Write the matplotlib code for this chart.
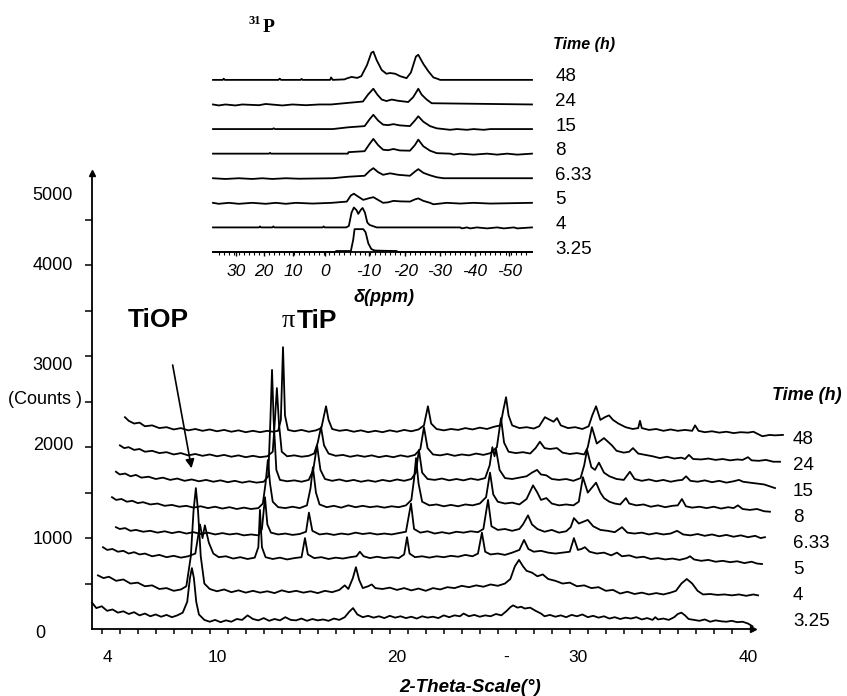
import numpy as np
import matplotlib
matplotlib.use("Agg")
import matplotlib.pyplot as plt
from matplotlib.ticker import FixedLocator, NullFormatter

plt.rcParams['font.family'] = ['Liberation Sans', 'DejaVu Sans']

W, H = 847, 696

# --- XRD patterns: (2-theta, counts) ---
xrd_3_25 = [(3.06, 290), (3.3, 230), (3.6, 250), (3.9, 200), (4.2, 215), (4.5, 180), (4.8, 195),
            (5.1, 165), (5.4, 185), (5.7, 150), (6.0, 170), (6.3, 140), (6.6, 160), (6.9, 135),
            (7.2, 155), (7.5, 130), (7.8, 150), (8.1, 180), (8.35, 300), (8.5, 560), (8.61, 670),
            (8.72, 560), (8.85, 300), (9.0, 160), (9.3, 100), (9.6, 80), (9.9, 100), (10.2, 75),
            (10.5, 95), (10.8, 80), (11.1, 110), (11.4, 100), (11.7, 150), (12.0, 110), (12.3, 95),
            (12.6, 120), (12.9, 90), (13.2, 110), (13.5, 95), (13.8, 130), (14.1, 100), (14.4, 95),
            (14.7, 115), (15.0, 90), (15.3, 110), (15.6, 95), (15.9, 105), (16.2, 90), (16.5, 115),
            (16.8, 100), (17.1, 130), (17.35, 190), (17.56, 230), (17.8, 160), (18.1, 130),
            (18.4, 145), (18.7, 125), (19.0, 140), (19.3, 120), (19.6, 145), (19.9, 125), (20.2, 140),
            (20.5, 120), (20.8, 135), (21.1, 115), (21.4, 140), (21.7, 125), (22.0, 135), (22.3, 120),
            (22.6, 150), (22.9, 130), (23.2, 150), (23.5, 140), (23.7, 170), (24.0, 140), (24.3, 155),
            (24.6, 135), (24.9, 150), (25.2, 140), (25.5, 165), (25.8, 150), (26.1, 200), (26.3, 240),
            (26.45, 260), (26.7, 235), (26.9, 245), (27.1, 225), (27.4, 235), (27.7, 200), (28.0, 170),
            (28.2, 140), (28.5, 155), (28.8, 135), (29.1, 150), (29.4, 130), (29.7, 155), (30.0, 140),
            (30.3, 160), (30.6, 130), (30.9, 145), (31.2, 125), (31.5, 140), (31.8, 115), (32.1, 130),
            (32.4, 110), (32.7, 125), (33.0, 115), (33.3, 130), (33.6, 105), (33.9, 120), (34.2, 100),
            (34.35, 130), (34.5, 105), (34.8, 115), (35.1, 100), (35.4, 130), (35.6, 165), (35.8, 180),
            (36.0, 150), (36.2, 110), (36.5, 100), (36.8, 90), (37.1, 105), (37.4, 80), (37.7, 95),
            (38.0, 85), (38.3, 80), (38.6, 90), (38.9, 75), (39.2, 80), (39.5, 60), (39.75, 30)]

xrd_4 = [(3.39, 590), (3.7, 560), (4.0, 575), (4.4, 530), (4.8, 545), (5.2, 500), (5.6, 510),
         (6.0, 470), (6.4, 480), (6.8, 440), (7.2, 450), (7.6, 420), (8.0, 435), (8.3, 470),
         (8.55, 800), (8.7, 1300), (8.83, 1550), (8.95, 1300), (9.1, 800), (9.3, 500), (9.6, 440),
         (10.0, 415), (10.4, 435), (10.8, 405), (11.2, 425), (11.6, 400), (12.0, 420), (12.4, 400),
         (12.8, 415), (13.2, 395), (13.6, 425), (14.0, 405), (14.4, 420), (14.8, 400), (15.2, 415),
         (15.6, 395), (16.0, 420), (16.4, 405), (16.8, 430), (17.1, 480), (17.3, 440), (17.55, 560),
         (17.72, 680), (17.9, 540), (18.1, 450), (18.4, 470), (18.6, 490), (18.8, 450), (19.2, 440),
         (19.6, 455), (20.0, 430), (20.4, 450), (20.8, 425), (21.2, 445), (21.6, 420), (22.0, 450),
         (22.4, 435), (22.8, 460), (23.2, 450), (23.6, 475), (24.0, 460), (24.4, 480), (24.8, 465),
         (25.2, 490), (25.6, 475), (26.0, 500), (26.3, 550), (26.55, 690), (26.78, 760), (27.0, 690),
         (27.2, 640), (27.5, 620), (27.8, 580), (28.1, 600), (28.4, 550), (28.8, 530), (29.2, 500),
         (29.6, 510), (30.0, 470), (30.4, 480), (30.8, 450), (31.2, 460), (31.6, 420), (32.0, 430),
         (32.4, 390), (32.8, 410), (33.2, 385), (33.6, 400), (34.0, 380), (34.4, 395), (34.8, 380),
         (35.2, 400), (35.5, 420), (35.8, 500), (36.1, 550), (36.4, 500), (36.7, 420), (37.0, 380),
         (37.4, 385), (37.8, 375), (38.2, 380), (38.6, 370), (39.0, 380), (39.4, 365), (39.8, 380),
         (40.06, 370)]

xrd_5 = [(3.67, 900), (3.9, 870), (4.2, 880), (4.5, 850), (4.8, 860), (5.1, 830), (5.4, 845),
         (5.7, 820), (6.0, 830), (6.4, 800), (6.8, 815), (7.2, 790), (7.6, 805), (8.0, 785),
         (8.4, 800), (8.8, 830), (9.06, 1150), (9.2, 1000), (9.33, 1140), (9.55, 950), (9.8, 830),
         (10.1, 790), (10.5, 800), (10.9, 775), (11.3, 790), (11.7, 770), (12.1, 785), (12.3, 900),
         (12.39, 1310), (12.5, 900), (12.7, 790), (13.1, 770), (13.5, 785), (13.9, 765), (14.3, 780),
         (14.7, 790), (14.89, 1000), (15.05, 820), (15.4, 780), (15.8, 790), (16.2, 770), (16.6, 785),
         (17.0, 775), (17.4, 790), (17.75, 800), (17.94, 850), (18.15, 800), (18.5, 780), (18.9, 795),
         (19.3, 780), (19.7, 790), (20.1, 780), (20.4, 820), (20.56, 1010), (20.7, 830), (21.0, 790),
         (21.4, 800), (21.8, 785), (22.2, 800), (22.6, 790), (23.0, 805), (23.4, 795), (23.8, 815),
         (24.2, 800), (24.5, 830), (24.72, 1060), (24.9, 850), (25.2, 820), (25.6, 830), (26.0, 815),
         (26.4, 840), (26.8, 870), (27.06, 980), (27.3, 880), (27.6, 850), (28.0, 860), (28.4, 840),
         (28.8, 830), (29.2, 840), (29.6, 850), (29.83, 1000), (30.05, 870), (30.25, 880),
         (30.44, 900), (30.7, 850), (31.1, 830), (31.5, 840), (31.9, 810), (32.22, 840), (32.5, 800),
         (32.9, 810), (33.3, 785), (33.7, 795), (34.1, 770), (34.5, 780), (34.9, 765), (35.3, 775),
         (35.7, 760), (36.1, 780), (36.28, 800), (36.5, 765), (36.9, 750), (37.3, 760), (37.7, 740),
         (38.1, 750), (38.5, 735), (38.9, 745), (39.3, 725), (39.7, 740), (40.0, 720), (40.28, 715)]

xrd_6_33 = [(4.39, 1120), (4.6, 1100), (4.9, 1110), (5.2, 1080), (5.5, 1090), (5.9, 1070), (6.3, 1080),
            (6.7, 1060), (7.1, 1075), (7.5, 1055), (7.9, 1070), (8.3, 1050), (8.7, 1065), (9.1, 1045),
            (9.5, 1060), (9.9, 1040), (10.3, 1055), (10.7, 1040), (11.1, 1050), (11.5, 1030),
            (11.9, 1040), (12.3, 1030), (12.5, 1100), (12.67, 1450), (12.8, 1150), (13.0, 1060),
            (13.4, 1040), (13.8, 1050), (14.2, 1035), (14.6, 1045), (14.95, 1070), (15.11, 1280),
            (15.3, 1080), (15.7, 1040), (16.1, 1050), (16.5, 1035), (16.9, 1050), (17.3, 1040),
            (17.7, 1060), (18.1, 1045), (18.5, 1055), (18.9, 1040), (19.3, 1050), (19.7, 1040),
            (20.1, 1055), (20.5, 1070), (20.78, 1380), (20.95, 1100), (21.3, 1060), (21.7, 1075),
            (22.1, 1050), (22.5, 1065), (22.9, 1050), (23.3, 1070), (23.7, 1060), (24.1, 1075),
            (24.5, 1065), (24.8, 1100), (25.06, 1420), (25.25, 1130), (25.6, 1090), (26.0, 1100),
            (26.4, 1080), (26.8, 1100), (27.0, 1150), (27.28, 1250), (27.5, 1150), (27.8, 1100),
            (28.2, 1070), (28.6, 1090), (29.0, 1060), (29.4, 1075), (29.65, 1120), (29.83, 1220),
            (30.1, 1160), (30.6, 1200), (30.9, 1130), (31.3, 1090), (31.7, 1080), (32.1, 1065),
            (32.5, 1120), (32.8, 1060), (33.2, 1050), (33.6, 1060), (34.0, 1040), (34.4, 1055),
            (34.8, 1040), (35.2, 1050), (35.56, 1080), (35.9, 1040), (36.3, 1030), (36.7, 1045),
            (37.1, 1025), (37.5, 1040), (37.9, 1020), (38.3, 1035), (38.7, 1015), (39.1, 1030),
            (39.5, 1010), (39.9, 1025), (40.2, 1000), (40.44, 1010)]

xrd_8 = [(4.17, 1450), (4.4, 1420), (4.7, 1430), (5.0, 1400), (5.3, 1410), (5.6, 1385), (5.9, 1395),
         (6.3, 1370), (6.7, 1380), (7.1, 1355), (7.5, 1365), (7.9, 1345), (8.3, 1355), (8.7, 1335),
         (9.1, 1350), (9.5, 1330), (9.9, 1345), (10.3, 1325), (10.7, 1340), (11.1, 1320), (11.5, 1335),
         (11.9, 1320), (12.3, 1330), (12.55, 1380), (12.7, 1600), (12.83, 1860), (12.95, 1600),
         (13.1, 1400), (13.4, 1340), (13.8, 1330), (14.2, 1345), (14.6, 1330), (15.0, 1360),
         (15.2, 1550), (15.33, 1780), (15.5, 1500), (15.7, 1370), (16.1, 1340), (16.5, 1355),
         (16.9, 1335), (17.3, 1360), (17.7, 1340), (18.1, 1355), (18.5, 1340), (18.9, 1350),
         (19.3, 1335), (19.7, 1350), (20.1, 1340), (20.5, 1360), (20.8, 1420), (20.95, 1650),
         (21.06, 1880), (21.2, 1600), (21.4, 1400), (21.8, 1360), (22.2, 1370), (22.6, 1350),
         (23.0, 1365), (23.4, 1350), (23.8, 1370), (24.2, 1360), (24.6, 1380), (24.95, 1450),
         (25.17, 1720), (25.35, 1480), (25.6, 1400), (26.0, 1380), (26.4, 1390), (26.8, 1370),
         (27.2, 1430), (27.56, 1580), (27.8, 1500), (28.0, 1420), (28.3, 1440), (28.6, 1380),
         (29.0, 1360), (29.4, 1370), (29.8, 1360), (30.1, 1400), (30.33, 1670), (30.6, 1500),
         (31.06, 1610), (31.3, 1500), (31.5, 1440), (31.8, 1400), (32.1, 1380), (32.4, 1370),
         (32.72, 1440), (32.9, 1380), (33.3, 1360), (33.7, 1370), (34.1, 1345), (34.5, 1360),
         (34.9, 1340), (35.3, 1355), (35.6, 1360), (35.83, 1430), (36.05, 1350), (36.4, 1335),
         (36.8, 1345), (37.2, 1330), (37.6, 1345), (38.0, 1325), (38.4, 1340), (38.7, 1330),
         (38.94, 1360), (39.2, 1320), (39.6, 1310), (40.0, 1320), (40.4, 1295), (40.72, 1290)]

xrd_15 = [(4.39, 1730), (4.6, 1700), (4.9, 1710), (5.2, 1680), (5.5, 1695), (5.8, 1665), (6.2, 1675),
          (6.6, 1650), (7.0, 1665), (7.4, 1640), (7.8, 1655), (8.2, 1630), (8.6, 1645), (9.0, 1625),
          (9.4, 1640), (9.8, 1620), (10.2, 1635), (10.6, 1615), (11.0, 1630), (11.4, 1610),
          (11.8, 1625), (12.2, 1610), (12.6, 1620), (12.85, 1680), (12.97, 2300), (13.06, 2850),
          (13.15, 2300), (13.3, 1750), (13.5, 1640), (13.9, 1625), (14.3, 1635), (14.7, 1620),
          (15.1, 1640), (15.35, 1750), (15.56, 2020), (15.75, 1750), (16.0, 1650), (16.4, 1630),
          (16.8, 1645), (17.2, 1625), (17.6, 1640), (18.0, 1620), (18.4, 1635), (18.8, 1620),
          (19.2, 1640), (19.6, 1625), (20.0, 1645), (20.4, 1630), (20.8, 1650), (21.05, 1720),
          (21.22, 1970), (21.4, 1720), (21.7, 1650), (22.1, 1640), (22.5, 1655), (22.9, 1635),
          (23.3, 1650), (23.7, 1635), (24.1, 1655), (24.5, 1640), (24.9, 1660), (25.15, 1800),
          (25.3, 2000), (25.42, 1900), (25.5, 1980), (25.7, 1750), (26.0, 1660), (26.4, 1650),
          (26.8, 1665), (27.2, 1680), (27.5, 1720), (27.78, 1750), (28.0, 1700), (28.3, 1690),
          (28.6, 1650), (29.0, 1640), (29.4, 1650), (29.8, 1630), (30.2, 1660), (30.4, 1800),
          (30.56, 1970), (30.8, 1780), (31.0, 1750), (31.22, 1830), (31.5, 1720), (31.8, 1680),
          (32.2, 1650), (32.6, 1640), (32.94, 1730), (33.2, 1650), (33.6, 1630), (34.0, 1645),
          (34.4, 1625), (34.8, 1640), (35.2, 1620), (35.6, 1635), (35.85, 1640), (36.06, 1680),
          (36.3, 1630), (36.7, 1620), (37.1, 1635), (37.5, 1615), (37.9, 1630), (38.3, 1610),
          (38.7, 1625), (39.0, 1640), (39.22, 1620), (39.6, 1610), (40.0, 1600), (40.4, 1590),
          (40.7, 1570), (41.0, 1550)]

xrd_24 = [(4.61, 2020), (4.85, 1990), (5.1, 2000), (5.4, 1970), (5.7, 1980), (6.0, 1950), (6.4, 1960),
          (6.8, 1935), (7.2, 1945), (7.6, 1920), (8.0, 1935), (8.4, 1910), (8.8, 1925), (9.2, 1905),
          (9.6, 1920), (10.0, 1900), (10.4, 1915), (10.8, 1895), (11.2, 1910), (11.6, 1890),
          (12.0, 1905), (12.4, 1890), (12.8, 1900), (13.1, 1950), (13.22, 2300), (13.33, 2650),
          (13.45, 2250), (13.6, 1950), (13.9, 1900), (14.3, 1910), (14.7, 1895), (15.1, 1905),
          (15.4, 1930), (15.6, 2050), (15.78, 2220), (15.95, 2020), (16.2, 1930), (16.6, 1905),
          (17.0, 1915), (17.4, 1895), (17.8, 1910), (18.2, 1895), (18.6, 1910), (19.0, 1890),
          (19.4, 1905), (19.8, 1890), (20.2, 1910), (20.6, 1895), (21.0, 1915), (21.3, 1980),
          (21.5, 2220), (21.7, 1990), (22.0, 1920), (22.4, 1910), (22.8, 1925), (23.2, 1905),
          (23.6, 1920), (24.0, 1910), (24.4, 1930), (24.8, 1915), (25.2, 1935), (25.55, 2000),
          (25.78, 2320), (25.95, 2050), (26.2, 1950), (26.6, 1935), (27.0, 1945), (27.4, 1930),
          (27.7, 1990), (27.94, 2060), (28.2, 1990), (28.5, 1980), (28.89, 1990), (29.2, 1940),
          (29.6, 1925), (30.0, 1935), (30.4, 1920), (30.6, 2000), (30.83, 2220), (31.1, 2040),
          (31.5, 2100), (31.94, 2020), (32.2, 1960), (32.6, 1940), (32.9, 1950), (33.11, 1990),
          (33.4, 1930), (33.8, 1915), (34.2, 1900), (34.6, 1880), (35.0, 1895), (35.4, 1875),
          (35.8, 1885), (36.0, 1870), (36.22, 1915), (36.45, 1870), (36.9, 1865), (37.3, 1875),
          (37.7, 1860), (38.1, 1870), (38.5, 1855), (38.9, 1865), (39.2, 1860), (39.5, 1890),
          (39.7, 1855), (40.1, 1850), (40.5, 1860), (40.9, 1840), (41.28, 1840)]

xrd_48 = [(4.89, 2330), (5.1, 2290), (5.4, 2260), (5.7, 2270), (6.0, 2230), (6.4, 2240), (6.8, 2210),
          (7.2, 2220), (7.6, 2195), (8.0, 2210), (8.4, 2185), (8.8, 2200), (9.2, 2180), (9.6, 2195),
          (10.0, 2175), (10.4, 2190), (10.8, 2170), (11.2, 2185), (11.6, 2165), (12.0, 2180),
          (12.4, 2165), (12.8, 2180), (13.1, 2170), (13.4, 2180), (13.55, 2300), (13.67, 3100),
          (13.78, 2350), (13.95, 2190), (14.3, 2175), (14.7, 2190), (15.1, 2170), (15.5, 2185),
          (15.8, 2210), (15.95, 2350), (16.06, 2450), (16.2, 2300), (16.4, 2200), (16.8, 2180),
          (17.2, 2190), (17.6, 2170), (18.0, 2185), (18.4, 2165), (18.8, 2180), (19.2, 2165),
          (19.6, 2185), (20.0, 2170), (20.4, 2190), (20.8, 2175), (21.2, 2195), (21.5, 2240),
          (21.72, 2450), (21.9, 2260), (22.2, 2200), (22.6, 2185), (23.0, 2200), (23.4, 2190),
          (23.8, 2210), (24.2, 2195), (24.6, 2215), (25.0, 2200), (25.4, 2225), (25.75, 2240),
          (25.9, 2400), (26.06, 2550), (26.2, 2350), (26.4, 2240), (26.8, 2210), (27.2, 2220),
          (27.6, 2205), (27.9, 2230), (28.22, 2330), (28.5, 2300), (28.7, 2280), (28.89, 2320),
          (29.1, 2240), (29.5, 2210), (29.9, 2220), (30.3, 2200), (30.65, 2230), (30.85, 2350),
          (31.06, 2450), (31.3, 2300), (31.55, 2330), (31.78, 2350), (32.0, 2300), (32.3, 2260),
          (32.7, 2220), (33.1, 2200), (33.4, 2210), (33.5, 2290), (33.6, 2210), (34.0, 2190),
          (34.4, 2200), (34.8, 2180), (35.2, 2195), (35.6, 2180), (36.0, 2190), (36.4, 2180),
          (36.56, 2240), (36.75, 2180), (37.1, 2165), (37.5, 2175), (37.9, 2160), (38.3, 2170),
          (38.7, 2155), (39.1, 2165), (39.5, 2160), (39.8, 2170), (40.0, 2150), (40.3, 2120),
          (40.7, 2135), (41.0, 2130), (41.44, 2135)]

xrd_series = [xrd_3_25, xrd_4, xrd_5, xrd_6_33, xrd_8, xrd_15, xrd_24, xrd_48]
time_labels = ["3.25", "4", "5", "6.33", "8", "15", "24", "48"]

# --- 31P NMR spectra: (ppm, intensity above own baseline) ---
nmr_3_25 = [(37.7, 0), (1.3, 0), (1.0, 0.04), (-3.4, 0.04), (-4.1, 0.5), (-4.5, 0.93), (-7.1, 0.93),
            (-7.8, 0.8), (-8.6, 0.35), (-9.5, 0.12), (-10.5, 0.06), (-13, 0.05), (-17, 0.04),
            (-17.5, 0), (-57.4, 0)]
nmr_4 = [(37.7, 0), (24, 0), (23.7, 0.04), (23.4, 0), (20, 0), (19.7, 0.04), (19.4, 0), (5, 0),
         (4.7, 0.04), (4.4, 0), (-2.0, 0), (-2.8, 0.06), (-3.6, 0.6), (-4.3, 0.81), (-5.1, 0.7),
         (-5.6, 0.55), (-6.4, 0.72), (-6.9, 0.79), (-7.6, 0.6), (-8.3, 0.2), (-9, 0.1), (-11.1, 0),
         (-36, 0), (-36.5, -0.04), (-38, 0), (-39, -0.04), (-41, 0), (-44, -0.04), (-47, 0),
         (-49, -0.04), (-52, 0), (-53, -0.04), (-57.4, 0)]
nmr_5 = [(37.7, 0), (36, -0.04), (33, 0), (30, -0.04), (26, 0), (22, -0.04), (19, 0), (16, -0.04),
         (13, 0), (8, -0.03), (2.3, 0), (-2.2, 0.05), (-3.4, 0.3), (-4.3, 0.37), (-5.6, 0.25),
         (-7.1, 0.12), (-8.6, 0.18), (-10.1, 0.23), (-11.5, 0.12), (-13, 0), (-14.5, 0.02),
         (-16.1, 0.08), (-18, 0.06), (-21, 0.05), (-22.5, 0.14), (-23.5, 0.18), (-25, 0.08),
         (-27, 0), (-28, -0.06), (-32, 0), (-36, -0.03), (-40, 0), (-45, -0.03), (-57.4, 0)]
nmr_6_33 = [(37.7, 0), (34, -0.03), (30, 0), (26, -0.03), (23, 0), (20, -0.03), (16, 0), (12, -0.02),
            (2, 0), (-2.5, 0.06), (-7.5, 0.1), (-9, 0.3), (-10.1, 0.41), (-11.5, 0.25), (-13, 0.14),
            (-15.1, 0.2), (-17.5, 0.14), (-21, 0.1), (-22.5, 0.27), (-23.5, 0.37), (-25, 0.22),
            (-27, 0.12), (-29, 0.04), (-31, 0), (-57.4, 0)]
nmr_8 = [(37.7, 0), (21, 0), (20.7, 0.03), (20.4, 0), (-2.5, 0), (-2.7, 0.06), (-7.5, 0.1),
         (-9, 0.4), (-10.1, 0.6), (-11.5, 0.35), (-13, 0.16), (-14.5, 0.14), (-16.1, 0.19),
         (-18, 0.13), (-21, 0.12), (-22.5, 0.35), (-23.5, 0.57), (-25, 0.3), (-27, 0.12),
         (-29, 0.02), (-33, 0), (-34, -0.04), (-36, 0), (-40, -0.04), (-44, 0), (-47, -0.04),
         (-50, 0), (-53, -0.04), (-57.4, 0)]
nmr_15 = [(37.7, 0), (20, 0), (19.6, 0.03), (19.2, 0), (2.0, 0), (-2.5, 0.07), (-7.5, 0.12),
          (-9, 0.4), (-10.1, 0.58), (-11.5, 0.35), (-13, 0.18), (-14.5, 0.16), (-16.1, 0.2),
          (-18, 0.15), (-21, 0.12), (-22.5, 0.35), (-23.5, 0.52), (-25, 0.3), (-27, 0.12),
          (-29, 0.03), (-31, 0), (-33, -0.03), (-35, 0), (-38, -0.03), (-40, 0), (-43, -0.03),
          (-45, 0), (-57.4, 0)]
nmr_24 = [(37.7, 0), (36, -0.04), (34, 0), (31, -0.04), (29, 0), (24, -0.03), (22, 0.02), (17, -0.04),
          (14, 0), (10, -0.03), (6, 0), (2.5, 0), (-2.2, 0.06), (-7, 0.12), (-8.5, 0.4),
          (-10.1, 0.64), (-11.3, 0.4), (-12.6, 0.2), (-14, 0.14), (-15.6, 0.2), (-17.5, 0.15),
          (-20.5, 0.1), (-22, 0.3), (-23.5, 0.64), (-24.5, 0.4), (-26, 0.2), (-27.5, 0.05),
          (-57.4, 0)]
nmr_48 = [(37.7, 0), (34.8, 0), (34.5, 0.05), (34.2, 0), (18.2, 0), (17.8, 0.05), (17.4, 0),
          (11.6, 0), (11.3, 0.04), (11.0, 0), (2.8, 0), (2.5, 0.1), (2.0, 0), (-1.5, 0.02),
          (-2.2, 0.06), (-3.6, 0.12), (-5.3, 0.08), (-6.5, 0.15), (-8.2, 0.6), (-9.5, 1.1),
          (-10.1, 1.15), (-11.1, 0.8), (-12.6, 0.4), (-14.0, 0.25), (-15.1, 0.28), (-16.6, 0.25),
          (-18.1, 0.15), (-20.0, 0.07), (-21.3, 0.3), (-22.8, 0.95), (-23.5, 1.02), (-25.0, 0.65),
          (-26.5, 0.35), (-28.0, 0.1), (-29.5, 0.03), (-30.0, 0), (-57.4, 0)]

nmr_series = [nmr_3_25, nmr_4, nmr_5, nmr_6_33, nmr_8, nmr_15, nmr_24, nmr_48]

# tick labels (positions as placed in the original figure)
xrd_tick_pos = [3.94, 10, 20, 26.06, 30.06, 39.5]
xrd_tick_text = ["4", "10", "20", "-", "30", "40"]
nmr_tick_pos = [30.9, 22.5, 13.9, 4.3, -8.8, -19.6, -30.0, -40.4, -50.6]
nmr_tick_text = ["30", "20", "10", "0", "-10", "-20", "-30", "-40", "-50"]
count_labels = ["5000", "4000", "3000", "2000", "1000"]
count_label_py = [195, 266, 366, 445, 540]


def fx(px):
    return px / W


def fy(py):
    return 1 - py / H


fig = plt.figure(figsize=(W / 100, H / 100), dpi=100)

# ---------------- main XRD panel ----------------
ax = fig.add_axes([fx(92), fy(629), (784 - 92) / W, (629 - 173) / H])
ax.set_xlim(3.06, 41.5)
ax.set_ylim(0, 5016)
ax.patch.set_alpha(0)

for data in xrd_series:
    arr = np.array(data)
    ax.plot(arr[:, 0], arr[:, 1], color='k', lw=1.3, clip_on=False)

for sp in ('top', 'right'):
    ax.spines[sp].set_visible(False)
ax.spines['bottom'].set_bounds(3.06, 39.78)
ax.spines['left'].set_bounds(0, 5016)
ax.spines['bottom'].set_linewidth(1.3)
ax.spines['left'].set_linewidth(1.3)
ax.plot([39.78], [0], marker='>', ms=5, color='k', clip_on=False)
ax.plot([3.06], [5016], marker='^', ms=5, color='k', clip_on=False)

ax.xaxis.set_major_locator(FixedLocator(xrd_tick_pos))
ax.set_xticklabels(xrd_tick_text, fontsize=12.5)
ax.xaxis.set_minor_locator(FixedLocator(np.arange(3.6, 39.0, 1.0)))
ax.tick_params(axis='x', which='major', length=0, pad=15)
ax.tick_params(axis='x', which='minor', length=3.5, width=1.1, direction='out')
ax.set_yticks(np.arange(500, 5000, 500))
ax.yaxis.set_major_formatter(NullFormatter())
ax.tick_params(axis='y', length=5, width=1.1, direction='out')

for lab, py in zip(count_labels, count_label_py):
    fig.text(fx(73), fy(py), lab, ha='right', va='center', fontsize=13)
fig.text(fx(40), fy(633), "0", ha='center', va='center', fontsize=13)
fig.text(fx(8), fy(400), "(Counts )", ha='left', va='center', fontsize=13)

fig.text(fx(470), fy(687), "2-Theta-Scale(°)", ha='center', va='center',
         fontsize=13.5, fontweight='bold', fontstyle='italic')
fig.text(fx(772), fy(395), "Time (h)", ha='left', va='center',
         fontsize=13, fontweight='bold', fontstyle='italic')
for lab, py in zip(time_labels, [621, 595, 569, 543, 518, 492, 466, 440]):
    fig.text(fx(793), fy(py), lab, ha='left', va='center', fontsize=13.5)

# peak labels
ax.text(6.72, 3400, "TiOP", ha='center', va='center', fontsize=19, fontweight='bold')
ax.text(13.95, 3390, "π", ha='center', va='center', fontsize=19, family='Liberation Serif')
ax.text(14.44, 3390, "TiP", ha='left', va='center', fontsize=19, fontweight='bold')
ax.annotate("", xy=(8.59, 1768), xytext=(7.54, 2904),
            arrowprops=dict(arrowstyle='-|>', color='k', lw=1.2, mutation_scale=13,
                            shrinkA=0, shrinkB=0))

# ---------------- 31P NMR inset ----------------
ins = fig.add_axes([fx(213), fy(252), (532 - 213) / W, (252 - 43) / H])
ins.set_xlim(37.7, -57.4)
ins.set_ylim(0, 8.5)
ins.patch.set_alpha(0)

for i, data in enumerate(nmr_series):
    arr = np.array(data)
    ins.plot(arr[:, 0], arr[:, 1] + i, color='k', lw=1.3, clip_on=False)
    ins.text(-64.3, i + 0.12, time_labels[i], ha='left', va='center', fontsize=13.5)

for sp in ('top', 'right', 'left'):
    ins.spines[sp].set_visible(False)
ins.spines['bottom'].set_linewidth(1.3)
ins.set_yticks([])
ins.xaxis.set_major_locator(FixedLocator(nmr_tick_pos))
ins.set_xticklabels(nmr_tick_text, fontsize=12.5, fontstyle='italic')
ins.xaxis.set_minor_locator(FixedLocator(np.arange(36, -57, -1.5)))
ins.tick_params(axis='x', which='major', length=3, width=1, pad=6)
ins.tick_params(axis='x', which='minor', length=2, width=0.8)

fig.text(fx(384), fy(297), "δ(ppm)", ha='center', va='center',
         fontsize=13, fontweight='bold', fontstyle='italic')
fig.text(fx(553), fy(45), "Time (h)", ha='left', va='center',
         fontsize=11.5, fontweight='bold', fontstyle='italic')
fig.text(fx(255), fy(21), "31", ha='center', va='center', fontsize=9,
         fontweight='bold', family='Liberation Serif')
fig.text(fx(269), fy(27), "P", ha='center', va='center', fontsize=14,
         fontweight='bold', family='Liberation Serif')

fig.savefig("out.png", dpi=100)
